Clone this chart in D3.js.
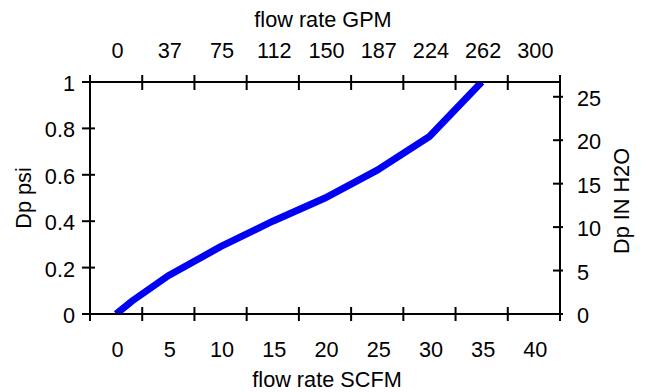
<!DOCTYPE html>
<html>
<head>
<meta charset="utf-8">
<script src="https://cdn.jsdelivr.net/npm/d3@7"></script>
<style>
  body { margin: 0; background: #fff; }
  svg text { font-family: "Liberation Sans", Arial, sans-serif; font-size: 21.7px; fill: #000; }
</style>
</head>
<body>
<div id="plot"></div>
<script>
// flow rate (SCFM) vs pressure drop (psi)
const scfm = [0, 1.5, 5, 10, 15, 20, 25, 30, 35];
const psi = [0, 0.055, 0.165, 0.29, 0.40, 0.50, 0.62, 0.765, 1.0];

const scfmLabels = [0, 5, 10, 15, 20, 25, 30, 35, 40];
const gpmLabels = ["0", "37", "75", "112", "150", "187", "224", "262", "300"];
const psiLabels = [0, 0.2, 0.4, 0.6, 0.8, 1];
const inH2OLabels = [0, 5, 10, 15, 20, 25];

const width = 647, height = 392;
const margin = {left: 90, right: 560, top: 82, bottom: 314};

const svg = d3.select("#plot").append("svg")
    .attr("width", width)
    .attr("height", height);

const x = d3.scaleLinear().domain([-2.5, 42.5]).range([margin.left, margin.right]);
const y = d3.scaleLinear().domain([0, 1]).range([margin.bottom, margin.top]);
const y2 = d3.scaleLinear().domain([0, 26.7]).range([margin.bottom, margin.top]);

// tick marks sit half way between the labels
const tickPos = d3.range(-2.5, 42.6, 5);

svg.append("clipPath").attr("id", "clip")
  .append("rect")
    .attr("x", margin.left).attr("y", margin.top)
    .attr("width", margin.right - margin.left).attr("height", margin.bottom - margin.top);

// the curve
const line = d3.line()
    .x((d, i) => x(scfm[i]))
    .y((d, i) => y(psi[i]));

svg.append("path")
    .datum(scfm)
    .attr("clip-path", "url(#clip)")
    .attr("d", line)
    .attr("fill", "none")
    .attr("stroke", "#0000f5")
    .attr("stroke-width", 7)
    .attr("stroke-linejoin", "miter");

// frame
svg.append("rect")
    .attr("x", margin.left).attr("y", margin.top)
    .attr("width", margin.right - margin.left).attr("height", margin.bottom - margin.top)
    .attr("fill", "none")
    .attr("stroke", "#000")
    .attr("stroke-width", 2);

const ticks = svg.append("g").attr("stroke", "#000").attr("stroke-width", 2);

// bottom + top ticks
ticks.selectAll(".tb").data(tickPos).enter().append("line")
    .attr("x1", d => x(d)).attr("x2", d => x(d))
    .attr("y1", margin.bottom - 7).attr("y2", margin.bottom + 7);
ticks.selectAll(".tt").data(tickPos).enter().append("line")
    .attr("x1", d => x(d)).attr("x2", d => x(d))
    .attr("y1", margin.top - 7).attr("y2", margin.top + 8);

// left ticks
ticks.selectAll(".tl").data(psiLabels).enter().append("line")
    .attr("x1", margin.left - 8).attr("x2", margin.left + 5)
    .attr("y1", d => y(d)).attr("y2", d => y(d));

// right ticks
ticks.selectAll(".tr").data(inH2OLabels).enter().append("line")
    .attr("x1", margin.right - 7).attr("x2", margin.right + 3)
    .attr("y1", d => y2(d)).attr("y2", d => y2(d));

// tick labels
svg.selectAll(".lb").data(scfmLabels).enter().append("text")
    .attr("x", d => x(d) + 1.5).attr("y", 357)
    .attr("text-anchor", "middle")
    .text(d => d);

svg.selectAll(".lt").data(gpmLabels).enter().append("text")
    .attr("x", (d, i) => x(scfmLabels[i]) + 1.5).attr("y", 58)
    .attr("text-anchor", "middle")
    .text(d => d);

svg.selectAll(".ll").data(psiLabels).enter().append("text")
    .attr("x", 75).attr("y", d => y(d) + 9)
    .attr("text-anchor", "end")
    .text(d => d);

svg.selectAll(".lr").data(inH2OLabels).enter().append("text")
    .attr("x", 577).attr("y", d => y2(d) + 9)
    .attr("text-anchor", "start")
    .text(d => d);

// axis titles
svg.append("text").attr("x", 327).attr("y", 387)
    .attr("text-anchor", "middle").text("flow rate SCFM");
svg.append("text").attr("x", 323).attr("y", 26.5)
    .attr("text-anchor", "middle").text("flow rate GPM");
svg.append("text")
    .attr("transform", "translate(30.5,198) rotate(-90)")
    .attr("text-anchor", "middle").text("Dp psi");
svg.append("text")
    .attr("transform", "translate(628.5,201) rotate(-90)")
    .attr("text-anchor", "middle").text("Dp IN H2O");
</script>
</body>
</html>
